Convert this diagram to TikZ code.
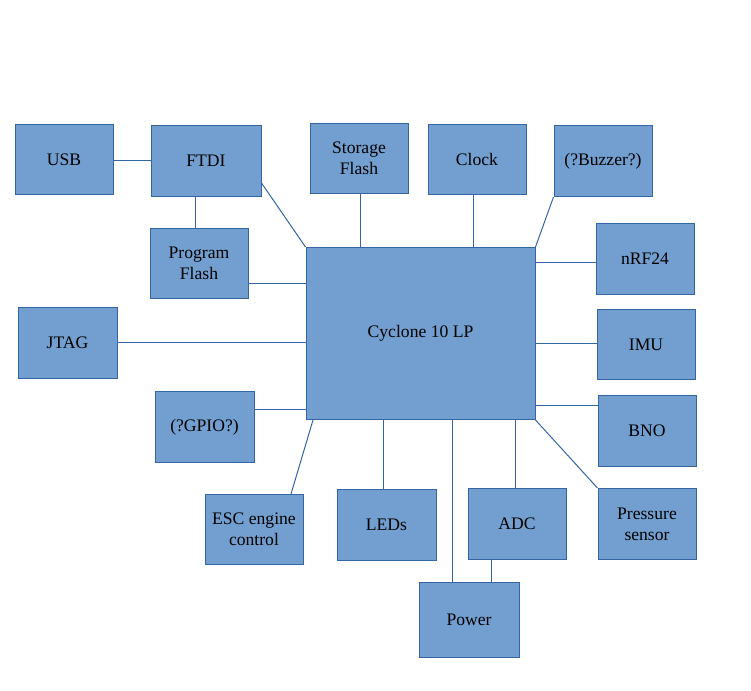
\documentclass[tikz,border=0pt]{standalone}
\usepackage{fontspec}
\setmainfont{Liberation Serif}
\usepackage{tikz}
\usetikzlibrary{positioning}
\usepackage{xcolor}
\definecolor{blkfill}{HTML}{729FCF}
\definecolor{blkline}{HTML}{3465A4}

\begin{document}
\begin{tikzpicture}[x=0.75pt, y=-0.75pt,
	blk/.style = {draw=blkline, fill=blkfill, line width=0.75pt, align=center, inner sep=0pt,
		minimum width=73.5pt, minimum height=52.5pt, font=\rmfamily\fontsize{13.2}{15.75}\selectfont},
	lnk/.style = {draw=blkline, line width=0.75pt}]
	\useasboundingbox (0,0) rectangle (751,691);

	\draw (64,159.5) node[blk] (usb) {USB}
	(206,161) node[blk, minimum width=82.5pt, minimum height=53.25pt] (ftdi) {FTDI}
	(199,263.5) node[blk] (pflash) {Program\\Flash}
	(359,158.5) node[blk] (store) {Storage\\Flash}
	(477,159.5) node[blk] (clock) {Clock}
	(603,161) node[blk, minimum height=53.25pt] (buzz) {(?Buzzer?)}
	(645,259) node[blk, minimum height=53.25pt] (nrf) {nRF24}
	(67.5,343) node[blk, minimum width=74.25pt, minimum height=53.25pt] (jtag) {JTAG}
	(420.5,333.5) node[blk, minimum width=171.75pt, minimum height=129pt] (cpu) {Cyclone 10 LP}
	(646,344.5) node[blk] (imu) {IMU}
	(204.5,427) node[blk, minimum width=74.25pt, minimum height=53.25pt] (gpio) {(?GPIO?)}
	(647,431) node[blk, minimum height=53.25pt] (bno) {BNO}
	(254,529.5) node[blk] (esc) {ESC engine\\control}
	(386.5,525) node[blk, minimum width=74.25pt, minimum height=53.25pt] (leds) {LEDs}
	(517,524) node[blk, minimum height=53.25pt] (adc) {ADC}
	(647,524) node[blk, minimum height=53.25pt] (press) {Pressure\\sensor}
	(469,620) node[blk, minimum width=75pt, minimum height=56.25pt] (power) {Power};

	% links to the core
	\draw[lnk] (usb.east |- 0,161) -- (ftdi.west |- 0,161);
	\draw[lnk] (ftdi.south -| 195,0) -- (pflash.north -| 195,0);
	\draw[lnk] (ftdi.east |- 0,183) -- (cpu.north west);
	\draw[lnk] (pflash.east |- 0,284) -- (cpu.west |- 0,284);
	\draw[lnk] (store.south -| 360,0) -- (cpu.north -| 360,0);
	\draw[lnk] (clock.south -| 473,0) -- (cpu.north -| 473,0);
	\draw[lnk] (buzz.south west) -- (cpu.north east);
	\draw[lnk] (cpu.east |- 0,263) -- (nrf.west |- 0,263);
	\draw[lnk] (jtag.east |- 0,343) -- (cpu.west |- 0,343);
	\draw[lnk] (cpu.east |- 0,344) -- (imu.west |- 0,344);
	\draw[lnk] (gpio.east |- 0,410) -- (cpu.west |- 0,410);
	\draw[lnk] (cpu.east |- 0,406) -- (bno.west |- 0,406);
	\draw[lnk] (cpu.south -| 313,0) -- (esc.north -| 291,0);
	\draw[lnk] (cpu.south -| 383,0) -- (leds.north -| 383,0);
	\draw[lnk] (cpu.south -| 452,0) -- (power.north -| 452,0);
	\draw[lnk] (cpu.south -| 515,0) -- (adc.north -| 515,0);
	\draw[lnk] (adc.south -| 491,0) -- (power.north -| 491,0);
	\draw[lnk] (cpu.south east) -- (press.north west);
\end{tikzpicture}
\end{document}
